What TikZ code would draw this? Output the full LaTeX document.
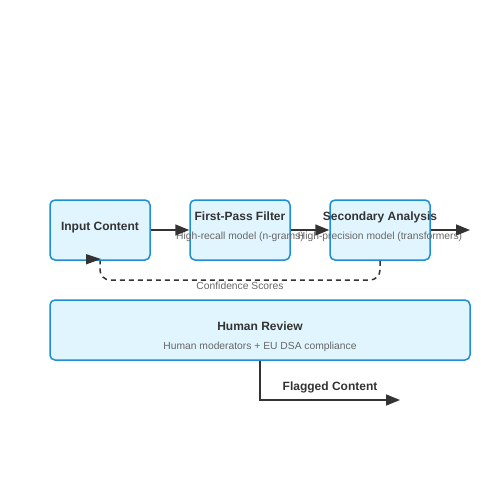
\documentclass[tikz,border=0pt]{standalone}
\usepackage{fontspec}
\setmainfont{Liberation Sans}
\usetikzlibrary{arrows.meta}
\definecolor{boxfill}{HTML}{E1F5FE}
\definecolor{boxline}{HTML}{1E8FD6}
\definecolor{dark}{HTML}{333333}
\definecolor{sub}{HTML}{666666}
\begin{document}
\begin{tikzpicture}[x=1pt,y=-1pt,
  box/.style={draw=boxline,fill=boxfill,line width=1.5pt,rounded corners=5pt,inner sep=0pt},
  ttl/.style={anchor=base,text=dark,font=\fontsize{12}{14}\selectfont\bfseries,inner sep=0pt},
  subt/.style={anchor=base,text=sub,font=\fontsize{10.3}{12}\selectfont,inner sep=0pt},
  conn/.style={draw=dark,line width=1.5pt,-{Triangle[length=14pt,width=11pt]}},
  dconn/.style={draw=dark,line width=1.5pt,dash pattern=on 5pt off 4pt,rounded corners=10pt}]
\useasboundingbox (0,0) rectangle (500,500);
% boxes
\node[box,minimum width=100pt,minimum height=60pt] (inp) at (100,230) {};
\node[box,minimum width=100pt,minimum height=60pt] (fpf) at (240,230) {};
\node[box,minimum width=100pt,minimum height=60pt] (sec) at (380,230) {};
\node[box,minimum width=420pt,minimum height=60pt] (hr) at (260,330) {};
% texts
\node[ttl] (inpt) at (100,230) {Input Content};
\node[ttl] (fpft) at (240,220) {First-Pass Filter};
\node[subt] (fpfs) at (240,239.5) {High-recall model (n-grams)};
\node[ttl] (sect) at (380,220) {Secondary Analysis};
\node[subt] (secs) at (380,239.5) {High-precision model (transformers)};
\node[ttl] (hrt) at (260,330) {Human Review};
\node[subt] (hrs) at (260,349.5) {Human moderators + EU DSA compliance};
% connectors
\coordinate (out) at (470,230);
\coordinate (flag) at (400,400);
\draw[conn] (inp.east) -- (fpf.west);
\draw[conn] (fpf.east) -- (sec.west);
\draw[conn] (sec.east) -- (out);
\draw[dconn] (sec.south) -- (380,280) -- (100,280) -- (inp.south);
\fill[dark] (86,254) -- (101,259) -- (86,264.5) -- cycle;
\node[subt] (conf) at (240,289.5) {Confidence Scores};
\draw[conn,rounded corners=0pt] (hr.south) -- (260,400) -- (flag);
\node[ttl] (flagt) at (330,390) {Flagged Content};
\end{tikzpicture}
\end{document}
